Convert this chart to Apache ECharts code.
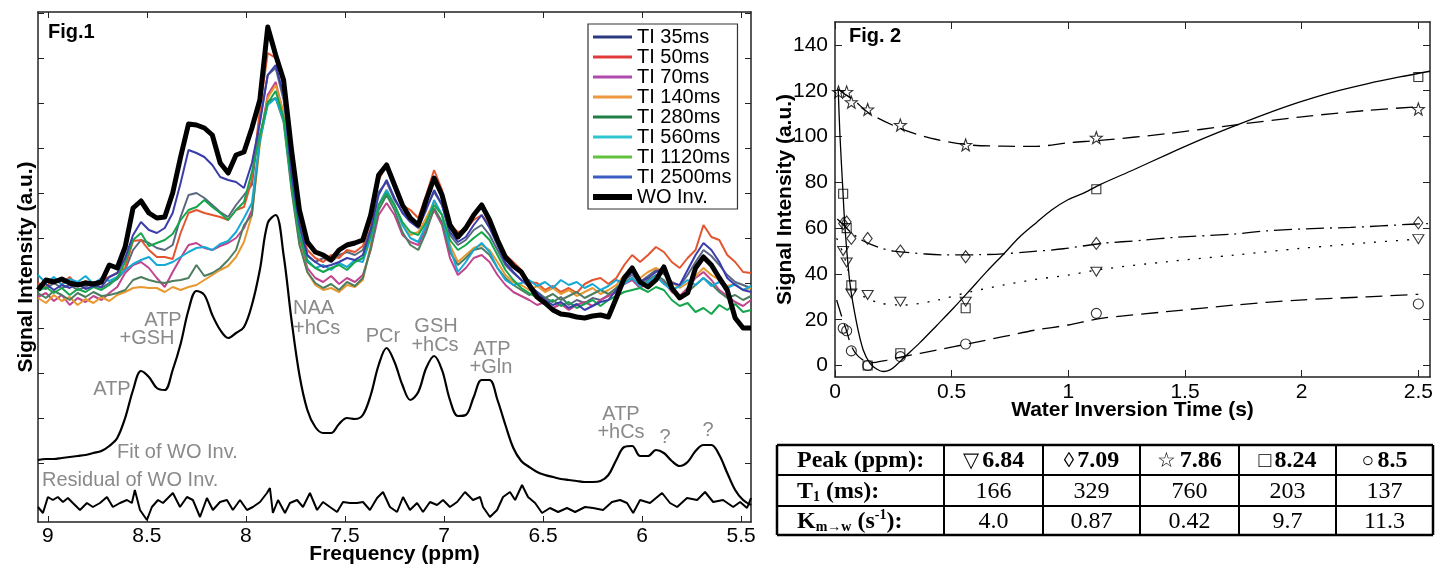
<!DOCTYPE html>
<html><head><meta charset="utf-8">
<script src="https://cdn.jsdelivr.net/npm/echarts@6/dist/echarts.min.js"></script>
<style>html,body{margin:0;padding:0;background:#fff}#c{width:1436px;height:565px}</style>
</head><body><div id="c"></div>
<script>
// ---------------- Fig.1 data (chemical shift in ppm, intensity in a.u.) ----------------
const ppm = [9.05,9.01,8.97,8.93,8.89,8.85,8.81,8.77,8.73,8.69,8.65,8.61,8.57,8.53,8.49,8.45,8.41,8.37,8.33,8.29,8.25,8.21,8.17,8.13,8.09,8.05,8.01,7.97,7.93,7.89,7.85,7.81,7.77,7.73,7.69,7.65,7.61,7.57,7.53,7.49,7.45,7.41,7.37,7.33,7.29,7.25,7.21,7.17,7.13,7.09,7.05,7.01,6.97,6.93,6.89,6.85,6.81,6.77,6.73,6.69,6.65,6.61,6.57,6.53,6.49,6.45,6.41,6.37,6.33,6.29,6.25,6.21,6.17,6.13,6.09,6.05,6.01,5.97,5.93,5.89,5.85,5.81,5.77,5.73,5.69,5.65,5.61,5.57,5.53,5.49,5.45];
const woInv = [173,183,181,184,180,178,180,179,181,198,195,216,255,262,250,245,246,270,306,339,338,335,328,300,290,308,311,335,363,436,408,383,313,253,221,211,208,203,213,218,220,223,248,288,298,278,258,245,238,263,285,268,238,226,235,248,258,243,223,206,197,191,178,166,160,153,149,148,146,145,147,148,146,165,185,195,181,176,183,196,175,165,170,195,206,198,185,173,145,135,135];
const ti35 = [177,174,180,175,178,173,176,181,175,180,184,193,213,223,220,215,213,218,246,268,270,265,258,251,246,258,268,278,343,388,395,363,291,235,207,201,205,201,208,211,208,213,235,271,281,263,251,243,237,255,271,258,228,218,223,233,238,228,213,198,190,183,176,171,165,161,166,158,163,160,165,163,168,175,183,188,181,187,193,189,181,177,188,201,213,207,198,188,181,178,175];
const ti50 = [180,176,184,179,186,177,182,178,183,186,190,195,222,223,213,206,206,204,230,250,253,250,248,246,243,253,256,283,353,410,405,378,298,241,213,205,201,208,205,213,211,217,241,283,298,278,258,253,245,268,293,273,238,231,233,243,248,238,223,208,201,193,181,180,173,177,171,175,170,179,183,185,179,185,198,208,201,208,216,211,201,195,205,213,238,226,223,208,201,191,190];
const ti70 = [166,170,162,168,158,165,161,167,163,170,176,190,198,201,195,185,176,191,205,218,220,215,213,217,220,225,235,253,323,368,381,348,278,223,195,185,181,187,179,185,181,188,213,248,260,248,228,221,218,235,253,238,205,188,195,205,208,201,188,178,171,167,163,158,161,155,159,153,158,161,157,163,167,171,179,183,175,180,186,181,171,167,175,185,191,183,173,167,161,157,163];
const ti140 = [165,160,168,162,166,158,164,160,166,162,168,171,175,176,175,175,171,176,173,176,178,183,188,193,197,206,221,248,318,365,378,351,275,220,191,178,173,175,171,178,176,183,218,258,273,258,238,228,231,245,261,248,218,201,208,215,218,213,201,188,181,178,173,177,171,175,169,173,167,171,175,169,173,178,188,193,185,191,195,191,181,175,180,187,195,188,183,177,179,173,175];
const ti280 = [170,165,172,168,163,170,166,171,167,168,170,173,183,186,183,181,180,182,183,185,198,187,190,195,203,213,238,248,323,361,365,341,273,218,191,180,175,179,173,181,177,185,215,253,268,253,231,218,213,231,255,241,211,198,205,213,215,208,195,185,178,173,168,171,165,169,163,167,171,165,169,173,169,175,181,185,178,183,188,183,173,166,171,178,185,179,171,165,168,163,167];
const ti560 = [188,180,186,178,184,181,187,179,185,182,186,193,199,203,206,198,198,201,206,211,215,216,213,219,222,231,245,260,323,358,365,343,280,228,203,195,198,193,200,196,203,201,225,258,273,258,238,225,221,238,263,248,215,191,201,213,220,211,195,183,178,180,183,177,181,175,183,178,181,175,179,173,177,183,179,185,177,181,187,179,173,177,183,178,185,177,181,175,179,173,177];
const ti1120 = [172,176,170,175,168,174,171,176,173,178,185,201,223,230,217,220,223,229,243,253,256,263,256,250,243,253,261,291,328,360,372,345,278,228,201,195,191,195,198,193,201,205,228,258,270,258,241,231,228,241,258,248,223,213,218,225,231,223,208,193,183,175,170,165,160,163,157,161,155,159,163,157,163,167,171,173,175,171,176,173,163,157,160,151,155,149,158,153,159,151,153];
const ti2500 = [176,179,173,178,175,180,174,177,176,186,190,205,228,241,233,230,235,250,280,313,310,306,298,286,283,281,275,300,340,388,398,368,288,238,208,201,196,198,201,205,203,208,233,268,283,265,250,241,235,253,273,258,231,221,226,238,248,235,218,200,191,183,178,171,163,158,161,155,159,153,157,161,163,173,183,191,181,185,191,195,180,178,193,208,220,213,201,185,178,173,171];
const woFit = [3,4,4,5,6,7,8,10,12,17,25,45,73,92,86,75,73,93,119,153,172,168,148,133,125,130,136,158,193,240,248,208,143,88,53,36,30,30,39,45,44,48,68,98,115,101,78,63,71,95,107,93,63,47,48,66,83,83,63,38,15,2,-4,-9,-12,-14,-16,-17,-18,-19,-19,-18,-12,3,16,17,7,7,13,10,2,-3,1,12,18,18,8,-10,-27,-37,-42];
const resPpm = [9.05,9.025,9.0,8.975,8.95,8.924,8.899,8.874,8.838,8.803,8.773,8.737,8.702,8.672,8.636,8.601,8.576,8.561,8.535,8.5,8.475,8.444,8.419,8.394,8.369,8.333,8.298,8.268,8.232,8.197,8.167,8.131,8.096,8.066,8.03,7.995,7.965,7.929,7.894,7.879,7.864,7.838,7.803,7.778,7.742,7.712,7.677,7.641,7.611,7.576,7.54,7.51,7.475,7.439,7.409,7.374,7.338,7.308,7.273,7.237,7.207,7.172,7.136,7.106,7.071,7.035,7.005,6.97,6.934,6.894,6.854,6.818,6.803,6.768,6.732,6.702,6.667,6.641,6.606,6.576,6.54,6.505,6.465,6.424,6.379,6.338,6.288,6.247,6.197,6.152,6.111,6.076,6.045,6.01,5.96,5.899,5.859,5.823,5.773,5.722,5.682,5.641,5.591,5.54,5.505,5.47,5.45];
const resVal = [-44,-50,-34,-37,-34,-39,-35,-40,-47,-40,-44,-40,-34,-44,-40,-37,-40,-27,-47,-57,-44,-37,-40,-35,-30,-44,-34,-37,-54,-35,-47,-39,-37,-47,-37,-47,-44,-39,-30,-25,-50,-37,-50,-40,-37,-44,-30,-47,-39,-44,-49,-39,-40,-40,-39,-47,-35,-29,-44,-49,-34,-47,-40,-49,-39,-42,-37,-44,-39,-29,-37,-34,-44,-54,-47,-34,-29,-37,-22,-34,-40,-50,-45,-49,-45,-49,-44,-45,-47,-39,-37,-40,-50,-37,-40,-30,-40,-44,-35,-37,-29,-39,-37,-44,-39,-45,-35];
const tiNames = ['TI 35ms','TI 50ms','TI 70ms','TI 140ms','TI 280ms','TI 560ms','TI 1120ms','TI 2500ms'];
const freqTicks = [9,8.5,8,7.5,7,6.5,6,5.5];
const intTicks = [0,45,90,135,180,225,270,315,360,405,450];

// ---------------- Fig.2 data ----------------
const tiSec = [0.035,0.05,0.07,0.14,0.28,0.56,1.12,2.5];
const starSec = [0.015,0.05,0.07,0.14,0.28,0.56,1.12,2.5];
const p684 = [50,45,31.5,30.8,27.9,27.9,41,55.2];
const p709 = [62,62.7,55.5,55.5,50,47.5,53.3,62.3];
const p786 = [119.5,119.5,115,111.8,105,96.3,99.5,112];
const p824 = [75,60,35,0,5.4,25,77,126];
const p850 = [16.3,15.2,6.4,0,3.9,9.4,22.8,26.9];
const sqFitT = [0.014,0.021,0.033,0.043,0.064,0.093,0.121,0.15,0.18,0.207,0.236,0.264,0.293,0.364,0.436,0.507,0.579,0.65,0.721,0.79,0.864,0.93,1.0,1.07,1.136,1.28,1.42,1.565,1.71,1.85,1.99,2.13,2.28,2.42,2.55];
const sqFitV = [120,101,78,60,36,18.4,6.8,1,-1.6,-2.6,-1.9,0.3,3.2,10,17.5,25,33,41,48.5,56,62.5,68,72.5,75.5,79,85.5,92,98.5,104.5,110,115,119.3,123,126,128.5];
const starFitT = [0.01,0.035,0.079,0.15,0.293,0.436,0.579,0.72,0.864,1.0,1.136,1.42,1.71,1.99,2.28,2.5];
const starFitV = [121,119,116,110,103,98.7,96.3,95.8,95.7,97.3,98.3,101.2,105,108.5,111.4,113];
const diaFitT = [0.01,0.035,0.07,0.12,0.19,0.25,0.39,0.48,0.62,0.72,0.84,0.98,1.14,1.32,1.46,1.71,1.85,2.07,2.21,2.47,2.55];
const diaFitV = [64,61.5,58,54.5,51.5,50,48.7,48.3,48.4,48.8,49.7,51,53.3,54.7,56,57.4,58.8,59.9,60.3,61.7,62];
const triFitT = [0.007,0.035,0.05,0.07,0.093,0.136,0.19,0.29,0.44,0.58,0.72,0.86,1.0,1.14,1.42,1.71,1.99,2.28,2.5];
const triFitV = [55.6,49,44,37,31.6,29.6,27.3,26.4,28.6,32.2,35.1,37.6,39.5,42,45.3,48.2,51.1,53.6,55.2];
const cirFitT = [0.007,0.03,0.05,0.07,0.1,0.15,0.22,0.29,0.44,0.58,0.72,0.86,1.0,1.14,1.42,1.71,1.99,2.28,2.5];
const cirFitV = [28.6,21,15,8.5,4,1.2,2.3,3.9,6.8,9.7,12.6,15.5,17.7,20.6,23.5,26.4,28.6,30,31.1];
const timeTicks = [0,0.5,1,1.5,2,2.5];
const sigTicks = [0,20,40,60,80,100,120,140];

// ---------------- Table data ----------------
const tblPeakSym = ['▽','◊','☆','□','○'];
const tblPeak = ['6.84','7.09','7.86','8.24','8.5'];
const tblT1 = ['166','329','760','203','137'];
const tblK = ['4.0','0.87','0.42','9.7','11.3'];

// ---------------- build ----------------
const FONT = '"Liberation Sans", Arial, Helvetica, sans-serif';
const SERIF = '"Liberation Serif", "Times New Roman", serif';
const lineColors = ['#58677f','#e2552e','#c0448e','#e8982f','#4d7d5f','#16a9d6','#14a64c','#3a3caa'];
const legendColors = ['#2b3a80','#e03a3a','#b04aae','#ee9640','#1f7f45','#2ec5d0','#62c23e','#3b5cc0'];
const tiData = [ti35,ti50,ti70,ti140,ti280,ti560,ti1120,ti2500];
const pair = (xs, ys) => xs.map((x,i)=>[x, ys[i]]);

const series = [];
tiData.forEach((arr,k)=>{
  series.push({name:tiNames[k], type:'line', xAxisIndex:0, yAxisIndex:0, data:pair(ppm,arr),
    showSymbol:false, symbol:'none', lineStyle:{color:lineColors[k], width:2}, itemStyle:{color:lineColors[k]}, z:2});
});
series.push({name:'WO Inv.', type:'line', xAxisIndex:0, yAxisIndex:0, data:pair(ppm,woInv),
  showSymbol:false, symbol:'none', lineStyle:{color:'#000', width:5, join:'round'}, itemStyle:{color:'#000'}, z:3});
series.push({name:'Fit of WO Inv.', type:'line', xAxisIndex:0, yAxisIndex:0, data:pair(ppm,woFit),
  showSymbol:false, symbol:'none', smooth:0.35, lineStyle:{color:'#000', width:2.2}, z:3});
series.push({name:'Residual of WO Inv.', type:'line', xAxisIndex:0, yAxisIndex:0, data:pair(resPpm,resVal),
  showSymbol:false, symbol:'none', lineStyle:{color:'#000', width:2}, z:3});

const fitLine = (name,t,v,type)=>({name, type:'line', xAxisIndex:2, yAxisIndex:2, data:pair(t,v),
  showSymbol:false, symbol:'none', smooth:0.3, lineStyle:{color:'#000', width:1.3, type:type}, z:2});
series.push(fitLine('fit 8.24', sqFitT, sqFitV, 'solid'));
series.push(fitLine('fit 7.86', starFitT, starFitV, [17,8]));
series.push(fitLine('fit 7.09', diaFitT, diaFitV, [18,6,2,6]));
series.push(fitLine('fit 6.84', triFitT, triFitV, [2,9]));
series.push(fitLine('fit 8.5', cirFitT, cirFitV, [17,8]));
const STAR = 'path://M12,0.5L14.9,8.6L23.4,8.8L16.6,14L19.1,22.3L12,17.4L4.9,22.3L7.4,14L0.6,8.8L9.1,8.6Z';
const scat = (name,t,v,symbol,size,rot)=>({name, type:'scatter', xAxisIndex:2, yAxisIndex:2, data:pair(t,v),
  symbol, symbolSize:size, symbolRotate:rot||0,
  itemStyle:{color:'rgba(0,0,0,0)', borderColor:'#000', borderWidth:1.1}, z:4});
series.push(scat('6.84', tiSec, p684, 'triangle', [11,9], 180));
series.push(scat('7.09', tiSec, p709, 'diamond', [9,12]));
series.push(scat('7.86', starSec, p786, STAR, 12));
series.push(scat('8.24', tiSec, p824, 'rect', 9));
series.push(scat('8.5', tiSec, p850, 'circle', 10));

const axLine = {show:true, onZero:false, lineStyle:{color:'#222', width:1.5}};
const mkAxis = (extra)=>Object.assign({type:'value', axisLine:axLine, splitLine:{show:false}, nameMoveOverlap:false}, extra);
const nameStyle = {fontSize:21, fontWeight:'bold', fontFamily:FONT, color:'#000'};

const xAxis = [
  mkAxis({gridIndex:0, position:'bottom', inverse:true, min:5.45, max:9.05,
    axisTick:{inside:true, length:6, customValues:freqTicks, lineStyle:{color:'#222'}},
    axisLabel:{customValues:freqTicks, margin:4, fontSize:21, fontFamily:FONT, color:'#000'},
    name:'Frequency (ppm)', nameLocation:'middle', nameGap:22, nameTextStyle:nameStyle}),
  mkAxis({gridIndex:0, position:'top', inverse:true, min:5.45, max:9.05,
    axisTick:{inside:true, length:6, customValues:freqTicks, lineStyle:{color:'#222'}}, axisLabel:{show:false}}),
  mkAxis({gridIndex:1, position:'bottom', min:0, max:2.55,
    axisTick:{inside:true, length:7, customValues:timeTicks, lineStyle:{color:'#222'}},
    axisLabel:{customValues:timeTicks, margin:5, fontSize:21, fontFamily:FONT, color:'#000'},
    name:'Water Inversion Time (s)', nameLocation:'middle', nameGap:23, nameTextStyle:nameStyle}),
  mkAxis({gridIndex:1, position:'top', min:0, max:2.55,
    axisTick:{inside:true, length:7, customValues:timeTicks, lineStyle:{color:'#222'}}, axisLabel:{show:false}})
];
const yAxis = [
  mkAxis({gridIndex:0, position:'left', min:-59, max:451,
    axisTick:{inside:true, length:6, customValues:intTicks, lineStyle:{color:'#222'}}, axisLabel:{show:false},
    name:'Signal Intensity (a.u.)', nameLocation:'middle', nameGap:1, nameRotate:90, nameTextStyle:nameStyle}),
  mkAxis({gridIndex:0, position:'right', min:-59, max:451,
    axisTick:{inside:true, length:6, customValues:intTicks, lineStyle:{color:'#222'}}, axisLabel:{show:false}}),
  mkAxis({gridIndex:1, position:'left', min:-5, max:150,
    axisTick:{inside:true, length:7, customValues:sigTicks, lineStyle:{color:'#222'}},
    axisLabel:{customValues:sigTicks, margin:7, fontSize:21, fontFamily:FONT, color:'#000'},
    name:'Signal Intensity (a.u.)', nameLocation:'middle', nameGap:39, nameRotate:90, nameTextStyle:nameStyle}),
  mkAxis({gridIndex:1, position:'right', min:-5, max:150,
    axisTick:{inside:true, length:7, customValues:sigTicks, lineStyle:{color:'#222'}}, axisLabel:{show:false}})
];

// graphic: annotations + table
const G = [];
const gt = (text,x,y,o)=>G.push({type:'text', silent:true, z:10, style:Object.assign({text, x, y, fill:'#8a8a8a',
  fontSize:20, fontFamily:FONT, align:'center', verticalAlign:'middle'}, o||{})});
gt('Fig.1', 48, 32, {fill:'#000', fontWeight:'bold', align:'left'});
gt('Fig. 2', 849, 36, {fill:'#000', fontWeight:'bold', align:'left'});
gt('ATP', 112, 389);
gt('ATP', 163, 320); gt('+GSH', 147, 338);
gt('NAA', 293, 308, {align:'left'}); gt('+hCs', 293, 328, {align:'left'});
gt('PCr', 383, 336);
gt('GSH', 436, 326); gt('+hCs', 435, 345);
gt('ATP', 492, 349); gt('+Gln', 491, 367);
gt('ATP', 621, 414); gt('+hCs', 621, 432);
gt('?', 665, 437); gt('?', 708, 430);
gt('Fit of WO Inv.', 117, 452, {align:'left'});
gt('Residual of WO Inv.', 42, 480, {align:'left'});

const T = {l:777, r:1433, t:445, b:535, rows:[475,506], cols:[944,1043,1140,1239,1336]};
const ln = (x1,y1,x2,y2,w)=>G.push({type:'line', silent:true, z:10, shape:{x1,y1,x2,y2}, style:{stroke:'#000', lineWidth:w}});
ln(T.l,T.t,T.r,T.t,2.5); ln(T.l,T.b,T.r,T.b,2.5); ln(T.l,T.t,T.l,T.b,2.5); ln(T.r,T.t,T.r,T.b,2.5);
T.rows.forEach(y=>ln(T.l,y,T.r,y,2));
T.cols.forEach(x=>ln(x,T.t,x,T.b,2));
const rowMid = [(T.t+T.rows[0])/2+1, (T.rows[0]+T.rows[1])/2+1, (T.rows[1]+T.b)/2+1];
const colMid = T.cols.map((x,i)=>(x+(i+1<T.cols.length?T.cols[i+1]:T.r))/2);
const rich = {
  b:{fontSize:24, fontWeight:'bold', fontFamily:SERIF, fill:'#000', lineHeight:26},
  n:{fontSize:24, fontFamily:SERIF, fill:'#000', lineHeight:26},
  y:{fontSize:21, fontFamily:SERIF, fill:'#000', lineHeight:26},
  s:{fontSize:14, fontWeight:'bold', fontFamily:SERIF, fill:'#000', lineHeight:13, verticalAlign:'bottom'},
  p:{fontSize:14, fontWeight:'bold', fontFamily:SERIF, fill:'#000', lineHeight:14, verticalAlign:'top'}
};
const tt = (text,x,y,align)=>G.push({type:'text', silent:true, z:11, style:{text, x, y, align:align||'center', verticalAlign:'middle', rich}});
tt('{b|Peak (ppm):}', 797, rowMid[0], 'left');
tt('{b|T}{s|1}{b| (ms):}', 797, rowMid[1], 'left');
tt('{b|K}{s|m→w}{b| (s}{p|-1}{b|):}', 797, rowMid[2], 'left');
tblPeak.forEach((v,i)=>tt('{y|'+tblPeakSym[i]+'} {b|'+v+'}', colMid[i], rowMid[0]));
tblT1.forEach((v,i)=>tt('{n|'+v+'}', colMid[i], rowMid[1]));
tblK.forEach((v,i)=>tt('{n|'+v+'}', colMid[i], rowMid[2]));

const thinIcon = 'path://M0,0M39,14M0,5.5H39V8.5H0Z';
const thickIcon = 'path://M0,0M39,14M0,4H39V10H0Z';
const legendData = tiNames.map((n,i)=>({name:n, icon:thinIcon, itemStyle:{color:legendColors[i], borderWidth:0}}));
legendData.push({name:'WO Inv.', icon:thickIcon, itemStyle:{color:'#000', borderWidth:0}});

const option = {
  animation:false,
  backgroundColor:'#fff',
  grid:[{left:38, top:12, width:713, height:510, outerBoundsMode:'none', containLabel:false},
        {left:835, top:22, width:595, height:355, outerBoundsMode:'none', containLabel:false}],
  xAxis, yAxis, series,
  legend:{left:588, top:24, orient:'vertical', itemGap:0, itemWidth:39, itemHeight:14, symbolKeepAspect:false,
    padding:[3,6,2,5], backgroundColor:'#fff', borderColor:'#333', borderWidth:1.2,
    textStyle:{fontFamily:FONT, fontSize:20, color:'#000', lineHeight:18.5}, data:legendData, selectedMode:false, z:20},
  graphic:G
};
const chart = echarts.init(document.getElementById('c'));
chart.setOption(option);
</script></body></html>
